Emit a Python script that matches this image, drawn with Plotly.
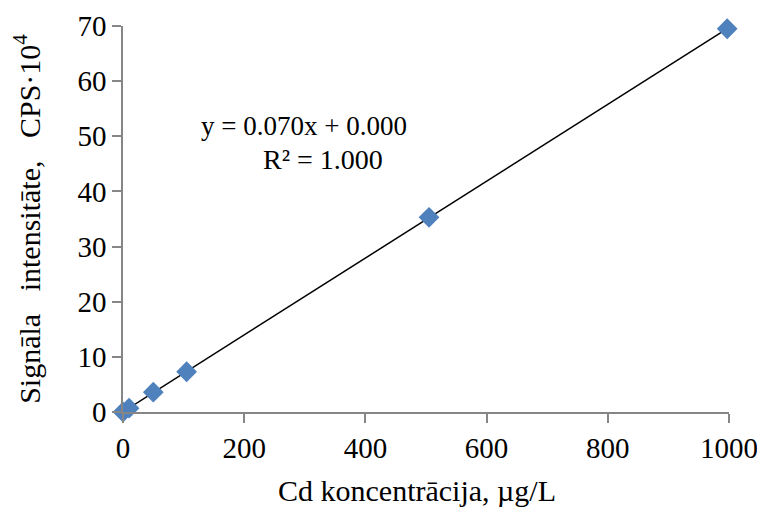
import numpy as np
import plotly.graph_objects as go

# Data
concentration = [0, 10, 50, 105, 505, 997]          # µg/L
intensity = [0.0, 0.7, 3.6, 7.3, 35.3, 69.5]         # CPS·10^4
eq_line1 = "y = 0.070x + 0.000"
eq_line2 = "R² = 1.000"
x_ticks = [0, 200, 400, 600, 800, 1000]
y_ticks = [0, 10, 20, 30, 40, 50, 60, 70]
x_title = "Cd koncentrācija, µg/L"

FONT = "Liberation Serif, Times New Roman, serif"
NB = "\u00a0"

# linear trendline from the data
slope, intercept = np.polyfit(concentration, intensity, 1)
tx = np.array([min(concentration), max(concentration)])
ty = slope * tx + intercept

fig = go.Figure()
fig.add_trace(go.Scatter(
    x=tx, y=ty, mode="lines",
    line=dict(color="black", width=1.5),
    cliponaxis=False, showlegend=False,
))
fig.add_trace(go.Scatter(
    x=concentration, y=intensity, mode="markers",
    marker=dict(symbol="diamond", size=16, color="#4F81BD"),
    cliponaxis=False, showlegend=False,
))

axis_common = dict(
    showgrid=False, zeroline=False, showline=True, automargin=False,
    linecolor="#868686", linewidth=1.5,
    ticks="outside", ticklen=9, tickcolor="#868686", tickwidth=1.5,
    tickfont=dict(family=FONT, size=29, color="black"),
)

fig.update_xaxes(range=[0, 1000], tickvals=x_ticks, **axis_common)
fig.update_yaxes(
    range=[0, 70], tickvals=y_ticks,
    title=dict(text="Signāla" + NB * 3 + "intensitāte," + NB * 3 + "CPS·10<sup>4</sup>",
               font=dict(family=FONT, size=30, color="black"), standoff=30),
    **axis_common,
)

# plot area in page pixels: x 123..729, y 26..412
def px_x(p):
    return (p - 123) / 606

def px_y(p):
    return (412 - p) / 386

fig.add_annotation(xref="paper", yref="paper", x=px_x(417), y=px_y(490),
                   xanchor="center", yanchor="middle",
                   text=x_title, showarrow=False, font=dict(family=FONT, size=30, color="black"))
fig.add_annotation(xref="paper", yref="paper", x=px_x(304), y=px_y(126),
                   xanchor="center", yanchor="middle",
                   text=eq_line1, showarrow=False, font=dict(family=FONT, size=27, color="black"))
fig.add_annotation(xref="paper", yref="paper", x=px_x(323), y=px_y(159),
                   xanchor="center", yanchor="middle",
                   text=eq_line2, showarrow=False, font=dict(family=FONT, size=28, color="black"))

# page has an 8px body margin, so offsets are reduced by 8
fig.update_layout(
    width=765, height=508,
    margin=dict(l=115, r=44, t=18, b=104),
    plot_bgcolor="white", paper_bgcolor="white",
)

fig.write_html("out.html")
